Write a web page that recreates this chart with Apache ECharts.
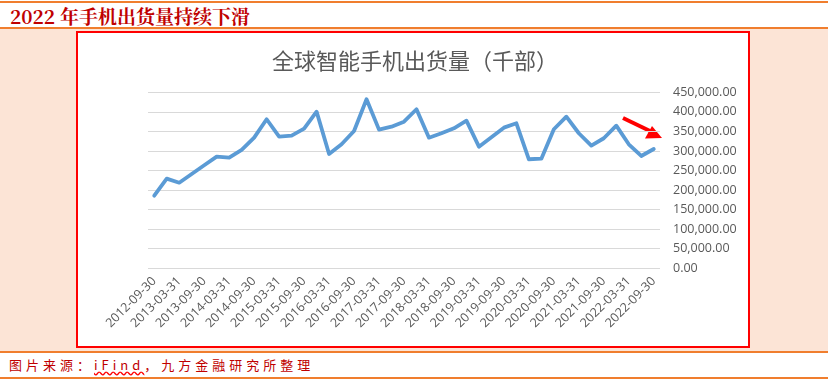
<!DOCTYPE html>
<html><head><meta charset="utf-8">
<script src="https://cdn.jsdelivr.net/npm/echarts@6/dist/echarts.min.js"></script>
<style>
html,body{margin:0;padding:0;width:828px;height:382px;overflow:hidden;background:#fff;font-family:"Noto Sans CJK SC",sans-serif;}
.l{position:absolute;left:0;width:828px;height:2px;background:#F07E2E;}
#peach{position:absolute;left:0;top:29px;width:828px;height:322px;background:#FCE4D6;}
#box{position:absolute;left:76px;top:31px;width:670px;height:313px;border:2px solid #FF0000;background:#fff;}
#ttl{position:absolute;left:10px;top:2px;font-size:19px;font-weight:bold;color:#C00000;font-family:"Noto Serif CJK SC","Noto Sans CJK SC",serif;}
#src{position:absolute;left:9px;top:355px;font-size:13px;color:#C00000;letter-spacing:4px;font-family:"Noto Sans CJK SC",monospace;}
#src u{text-decoration:underline wavy #ff0000;}
#c{position:absolute;left:0;top:0;width:828px;height:382px;}
</style></head>
<body>
<div class="l" style="top:1px"></div>
<div id="ttl">2022 年手机出货量持续下滑</div>
<div class="l" style="top:27px"></div>
<div id="peach"></div>
<div id="box"></div>
<div class="l" style="top:351px"></div>
<div id="src">图片来源：<u>iFind</u>，九方金融研究所整理</div>
<div class="l" style="top:377px"></div>
<div id="c"></div>
<script>
const categories = [
 '2012-09-30','2012-12-31','2013-03-31','2013-06-30','2013-09-30','2013-12-31',
 '2014-03-31','2014-06-30','2014-09-30','2014-12-31','2015-03-31','2015-06-30',
 '2015-09-30','2015-12-31','2016-03-31','2016-06-30','2016-09-30','2016-12-31',
 '2017-03-31','2017-06-30','2017-09-30','2017-12-31','2018-03-31','2018-06-30',
 '2018-09-30','2018-12-31','2019-03-31','2019-06-30','2019-09-30','2019-12-31',
 '2020-03-31','2020-06-30','2020-09-30','2020-12-31','2021-03-31','2021-06-30',
 '2021-09-30','2021-12-31','2022-03-31','2022-06-30','2022-09-30'];
const shipments = [
 185700,229200,218900,241200,263400,285400,
 282900,302600,334000,381100,336600,339100,
 357000,400500,292300,317100,351100,432200,
 354500,362100,374900,406600,334000,345200,
 358000,377500,311000,335000,359600,370800,
 278800,280300,355500,387700,345300,313600,
 332500,364700,317100,287200,305100];
const yTicks = {min:0, max:450000, interval:50000};
const chartTitle = '全球智能手机出货量（千部）';

const chart = echarts.init(document.getElementById('c'));
chart.setOption({
  animation:false,
  title:{text:chartTitle,left:410,top:45,textAlign:'center',
    textStyle:{color:'#595959',fontSize:22,fontWeight:'normal',fontFamily:'"Noto Sans CJK SC",sans-serif'}},
  grid:{left:148,right:168,top:92.3,bottom:113.7},
  xAxis:{type:'category',data:categories,boundaryGap:true,
    axisLine:{show:false},axisTick:{show:false},
    axisLabel:{interval:1,rotate:45,color:'#595959',fontSize:12.5,margin:11,fontFamily:'"Open Sans","DejaVu Sans",sans-serif'}},
  yAxis:{type:'value',position:'right',min:yTicks.min,max:yTicks.max,interval:yTicks.interval,
    axisLine:{show:false},axisTick:{show:false},
    splitLine:{lineStyle:{color:'#D9D9D9',width:1}},
    axisLabel:{align:'left',margin:13,color:'#595959',fontSize:12.5,fontFamily:'"Open Sans","DejaVu Sans",sans-serif',
      formatter:v=>v.toLocaleString('en-US',{minimumFractionDigits:2,maximumFractionDigits:2})}},
  series:[{type:'line',data:shipments,symbol:'none',smooth:false,
    lineStyle:{color:'#5B9BD5',width:3.8,cap:'round',join:'round'}}],
  graphic:[
    {type:'line',shape:{x1:623,y1:118,x2:650,y2:131},style:{stroke:'#FF0000',lineWidth:4}},
    {type:'polygon',shape:{points:[[662,138],[645,138.5],[652,126]]},style:{fill:'#FF0000'}}
  ]
});
</script>
</body></html>
